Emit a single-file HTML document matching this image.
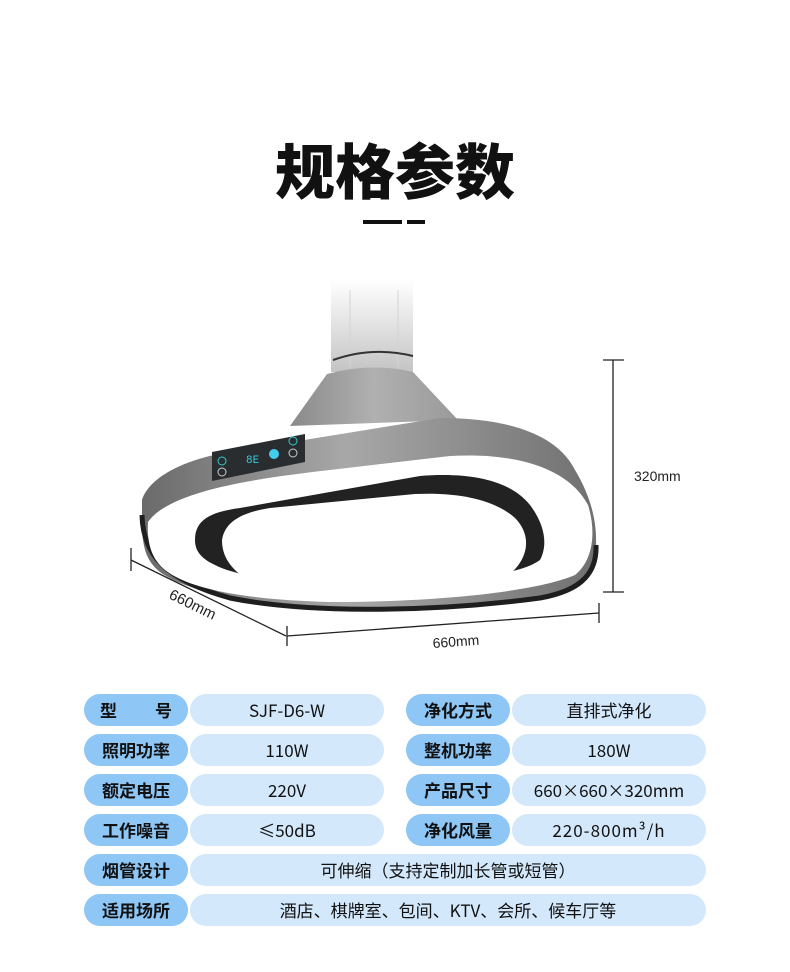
<!DOCTYPE html>
<html><head><meta charset="utf-8">
<style>
html,body{margin:0;padding:0;background:#fff;}
body{width:790px;height:972px;position:relative;overflow:hidden;font-family:"Liberation Sans","Noto Sans CJK SC",sans-serif;}
.title{position:absolute;left:0;width:790px;top:132px;text-align:center;font-size:60px;font-weight:900;color:#111;line-height:74px;font-family:"Noto Sans CJK SC",sans-serif;}
.d{position:absolute;top:220px;height:4px;background:#111;}
.p{position:absolute;height:32px;line-height:32px;border-radius:16px;text-align:center;font-size:17px;color:#111;font-family:"Noto Sans CJK SC",sans-serif;}
.l{background:#8ec6f6;font-weight:700;}
.v{background:#d3e8fb;}
</style></head><body>
<div class="title">规格参数</div>
<div class="d" style="left:363px;width:39px"></div>
<div class="d" style="left:407px;width:18px"></div>

<svg width="790" height="972" style="position:absolute;left:0;top:0">
<defs>
<linearGradient id="pole" x1="0" y1="0" x2="0" y2="1"><stop offset="0" stop-color="#fff"/><stop offset="1" stop-color="#c4c4c4"/></linearGradient>
<linearGradient id="hood" x1="0" y1="0" x2="1" y2="0"><stop offset="0" stop-color="#8a8a8a"/><stop offset=".5" stop-color="#b0b0b0"/><stop offset="1" stop-color="#9a9a9a"/></linearGradient>
<linearGradient id="body" x1="0" y1="0" x2="1" y2="0"><stop offset="0" stop-color="#6a6a6a"/><stop offset=".45" stop-color="#a8a8a8"/><stop offset="1" stop-color="#707070"/></linearGradient>
</defs>
<rect x="331" y="280" width="82" height="92" fill="url(#pole)"/>
<line x1="350" y1="290" x2="350" y2="368" stroke="#d4d4d4"/>
<line x1="398" y1="290" x2="398" y2="368" stroke="#d4d4d4"/>
<path d="M333 360 Q372 346 413 356" stroke="#333" stroke-width="2" fill="none"/>
<path d="M327 374 Q370 362 413 372 L458 420 L290 426 Z" fill="url(#hood)"/>
<!-- body -->
<path d="M142 500 C150 475 190 458 230 452 L440 418 C520 418 560 440 575 470 C590 495 597 520 596 545 C596 575 585 588 560 595 C480 610 400 614 320 610 C240 604 185 590 160 572 C145 560 142 545 142 520 Z" fill="url(#body)"/>
<path d="M142 515 C143 555 165 580 230 598 C300 612 420 614 540 598 C585 590 597 570 596 545" stroke="#1e1e1e" stroke-width="5" fill="none"/>
<path d="M148 522 C170 490 260 478 330 470 L450 456 C520 452 570 470 588 505 C596 530 594 560 575 575 C540 590 450 602 330 602 C250 600 190 590 165 570 C150 558 147 540 148 522 Z" fill="#fff"/>
<path d="M195 540 C195 520 210 512 240 508 L420 476 C470 472 510 480 530 505 C545 525 548 545 540 560 C520 575 460 582 380 584 C300 585 240 578 215 565 C200 558 195 550 195 540 Z" fill="#222"/>
<path d="M222 540 C225 520 245 512 270 508 L415 494 C460 492 495 500 515 518 C532 535 530 560 505 578 C460 595 400 600 340 600 C290 598 250 585 235 570 C225 560 222 550 222 540 Z" fill="#fff"/>
<!-- panel -->
<path d="M212 452 L305 434 L305 462 L212 481 Z" fill="#2a2d30"/>
<circle cx="222" cy="461" r="4" fill="none" stroke="#3cc"/><circle cx="222" cy="472" r="4" fill="none" stroke="#ccc"/>
<circle cx="293" cy="441" r="4" fill="none" stroke="#3cc"/><circle cx="293" cy="453" r="4" fill="none" stroke="#ccc"/>
<text x="246" y="463" font-size="11" fill="#3cd" font-family="Liberation Mono">8E</text>
<circle cx="274" cy="454" r="5" fill="#4ce"/>
<!-- dimensions -->
<g stroke="#222" stroke-width="1.3">
<line x1="613" y1="360" x2="613" y2="592"/>
<line x1="603" y1="360" x2="624" y2="360"/><line x1="603" y1="592" x2="624" y2="592"/>
<line x1="287" y1="636" x2="599" y2="613"/>
<line x1="287" y1="626" x2="287" y2="646"/><line x1="599" y1="603" x2="599" y2="623"/>
<line x1="131" y1="560" x2="286" y2="636"/>
<line x1="131" y1="548" x2="131" y2="571"/>
</g>
<text x="634" y="481" font-size="14" fill="#222">320mm</text>
<text x="433" y="648" font-size="14" fill="#222" transform="rotate(-4 433 648)">660mm</text>
<text x="168" y="598" font-size="15" fill="#222" transform="rotate(26 168 598)">660mm</text>
</svg>

<div class="p l" style="left:84px;top:694px;width:104px;text-align:left"><span style="position:absolute;left:16px">型</span><span style="position:absolute;right:16px">号</span></div>
<div class="p v" style="left:190px;top:694px;width:194px">SJF-D6-W</div>
<div class="p l" style="left:406px;top:694px;width:104px">净化方式</div>
<div class="p v" style="left:512px;top:694px;width:194px">直排式净化</div>

<div class="p l" style="left:84px;top:734px;width:104px">照明功率</div>
<div class="p v" style="left:190px;top:734px;width:194px">110W</div>
<div class="p l" style="left:406px;top:734px;width:104px">整机功率</div>
<div class="p v" style="left:512px;top:734px;width:194px">180W</div>

<div class="p l" style="left:84px;top:774px;width:104px">额定电压</div>
<div class="p v" style="left:190px;top:774px;width:194px">220V</div>
<div class="p l" style="left:406px;top:774px;width:104px">产品尺寸</div>
<div class="p v" style="left:512px;top:774px;width:194px">660×660×320mm</div>

<div class="p l" style="left:84px;top:814px;width:104px">工作噪音</div>
<div class="p v" style="left:190px;top:814px;width:194px">≤50dB</div>
<div class="p l" style="left:406px;top:814px;width:104px">净化风量</div>
<div class="p v" style="left:512px;top:814px;width:194px;letter-spacing:1px">220-800m³/h</div>

<div class="p l" style="left:84px;top:854px;width:104px">烟管设计</div>
<div class="p v" style="left:190px;top:854px;width:516px">可伸缩（支持定制加长管或短管）</div>

<div class="p l" style="left:84px;top:894px;width:104px">适用场所</div>
<div class="p v" style="left:190px;top:894px;width:516px">酒店、棋牌室、包间、KTV、会所、候车厅等</div>
</body></html>
